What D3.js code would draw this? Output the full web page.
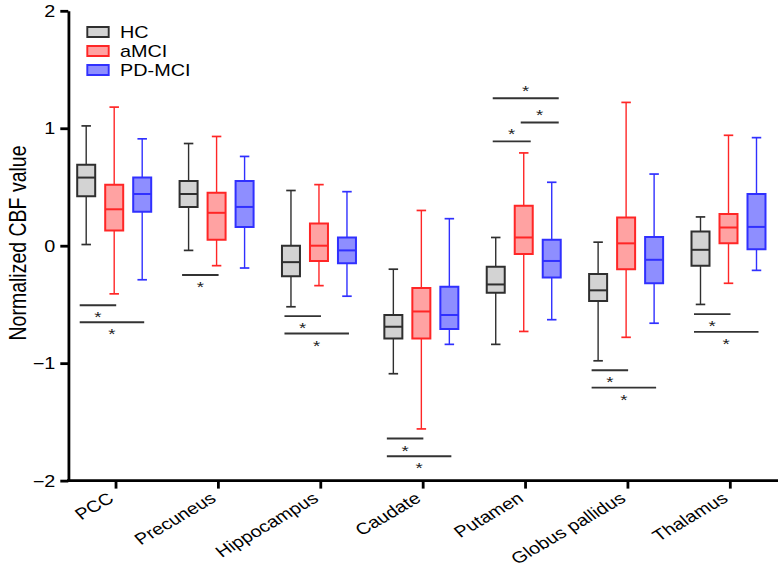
<!DOCTYPE html>
<html>
<head>
<meta charset="utf-8">
<script src="https://cdn.jsdelivr.net/npm/d3@7"></script>
<style>
  html, body { margin: 0; padding: 0; background: #fff; }
  svg { display: block; }
  .ns { vector-effect: non-scaling-stroke; }
</style>
</head>
<body>
<div id="chart"></div>
<script>
// ---------- DATA ----------
const regions = ["PCC", "Precuneus", "Hippocampus", "Caudate", "Putamen", "Globus pallidus", "Thalamus"];
const groups = ["HC", "aMCI", "PD-MCI"];
const yTicks = [-2, -1, 0, 1, 2];
const yTitle = "Normalized CBF value";

// [min, q1, median, q3, max] per region
const hcStats = [
  [0.01, 0.42, 0.58, 0.69, 1.02],
  [-0.04, 0.33, 0.44, 0.55, 0.87],
  [-0.52, -0.26, -0.14, 0.00, 0.47],
  [-1.09, -0.79, -0.69, -0.59, -0.20],
  [-0.84, -0.40, -0.33, -0.18, 0.07],
  [-0.98, -0.47, -0.38, -0.24, 0.03],
  [-0.50, -0.17, -0.035, 0.12, 0.245]
];
const amciStats = [
  [-0.41, 0.13, 0.31, 0.52, 1.18],
  [-0.17, 0.05, 0.28, 0.45, 0.93],
  [-0.34, -0.13, 0.00, 0.19, 0.52],
  [-1.56, -0.79, -0.56, -0.36, 0.30],
  [-0.73, -0.07, 0.07, 0.34, 0.79],
  [-0.78, -0.20, 0.02, 0.24, 1.22],
  [-0.32, 0.02, 0.155, 0.27, 0.94]
];
const pdStats = [
  [-0.29, 0.29, 0.44, 0.58, 0.91],
  [-0.19, 0.16, 0.33, 0.55, 0.76],
  [-0.43, -0.15, -0.04, 0.07, 0.46],
  [-0.84, -0.71, -0.59, -0.35, 0.23],
  [-0.63, -0.27, -0.13, 0.05, 0.54],
  [-0.66, -0.32, -0.12, 0.075, 0.61],
  [-0.21, -0.03, 0.16, 0.44, 0.92]
];

// significance brackets
const sigRegion = ["PCC", "PCC", "Precuneus", "Hippocampus", "Hippocampus", "Caudate", "Caudate",
                   "Putamen", "Putamen", "Putamen", "Globus pallidus", "Globus pallidus", "Thalamus", "Thalamus"];
const sigFrom = ["HC", "HC", "HC", "HC", "HC", "HC", "HC", "HC", "aMCI", "HC", "HC", "HC", "HC", "HC"];
const sigTo = ["aMCI", "PD-MCI", "aMCI", "aMCI", "PD-MCI", "aMCI", "PD-MCI", "aMCI", "PD-MCI", "PD-MCI", "aMCI", "PD-MCI", "aMCI", "PD-MCI"];
const sigY = [-0.507, -0.652, -0.249, -0.60, -0.748, -1.642, -1.793, 0.888, 1.049, 1.256, -1.06, -1.208, -0.583, -0.734];
const sigSide = ["below", "below", "below", "below", "below", "below", "below", "above", "above", "above", "below", "below", "below", "below"];

// ---------- LAYOUT ----------
const W = 778, H = 565, S = 1.24;   // horizontal stretch of the original figure
const VW = W / S;
const px = v => v / S;              // screen px (horizontal) -> view units

const font = "'Liberation Sans', Arial, Helvetica, sans-serif";
const strokeCol = { "HC": "#2f2f2f", "aMCI": "#ff2626", "PD-MCI": "#3030ff" };
const fillCol = { "HC": "#d3d3d3", "aMCI": "#ffa2a2", "PD-MCI": "#8e8eff" };
const statsBy = { "HC": hcStats, "aMCI": amciStats, "PD-MCI": pdStats };

const svg = d3.select("#chart").append("svg")
  .attr("width", W).attr("height", H)
  .attr("viewBox", `0 0 ${VW} ${H}`)
  .attr("preserveAspectRatio", "none");

const axisX0 = px(68.3);
const x = d3.scalePoint().domain(regions).range([px(115.4), px(729.7)]);
const gx = d3.scalePoint().domain(groups).range([px(-29.2), px(26.8)]);
const y = d3.scaleLinear().domain([-2, 2]).range([480.6, 10.8]);

const boxW = px(18), capW = px(9.5);

// ---------- BOXES ----------
const boxData = [];
regions.forEach((r, i) => groups.forEach(g => {
  const s = statsBy[g][i];
  boxData.push({ r, g, min: s[0], q1: s[1], med: s[2], q3: s[3], max: s[4] });
}));

const bg = svg.append("g").selectAll("g").data(boxData).join("g")
  .attr("transform", d => `translate(${x(d.r) + gx(d.g)},0)`);

bg.append("line").attr("class", "ns")
  .attr("x1", 0).attr("x2", 0)
  .attr("y1", d => y(d.max)).attr("y2", d => y(d.min))
  .attr("stroke", d => strokeCol[d.g]).attr("stroke-width", 1.4);
bg.append("line").attr("class", "ns")
  .attr("x1", -capW / 2).attr("x2", capW / 2)
  .attr("y1", d => y(d.max)).attr("y2", d => y(d.max))
  .attr("stroke", d => strokeCol[d.g]).attr("stroke-width", 1.7);
bg.append("line").attr("class", "ns")
  .attr("x1", -capW / 2).attr("x2", capW / 2)
  .attr("y1", d => y(d.min)).attr("y2", d => y(d.min))
  .attr("stroke", d => strokeCol[d.g]).attr("stroke-width", 1.7);
bg.append("rect").attr("class", "ns")
  .attr("x", -boxW / 2).attr("width", boxW)
  .attr("y", d => y(d.q3)).attr("height", d => y(d.q1) - y(d.q3))
  .attr("fill", d => fillCol[d.g])
  .attr("stroke", d => strokeCol[d.g]).attr("stroke-width", 2);
bg.append("line").attr("class", "ns")
  .attr("x1", -boxW / 2).attr("x2", boxW / 2)
  .attr("y1", d => y(d.med)).attr("y2", d => y(d.med))
  .attr("stroke", d => strokeCol[d.g]).attr("stroke-width", 2);

// ---------- SIGNIFICANCE ----------
const sigData = sigRegion.map((r, k) => ({ r, from: sigFrom[k], to: sigTo[k], v: sigY[k], side: sigSide[k] }));
const sg = svg.append("g").selectAll("g").data(sigData).join("g");
sg.each(function (d) {
  const c1 = x(d.r) + gx(d.from), c2 = x(d.r) + gx(d.to);
  const x1 = d.side === "below" ? c1 - px(6.5) : c1 - px(3);
  const x2 = d.side === "below" ? c2 + px(2) : c2 + px(7);
  const ly = y(d.v);
  const g = d3.select(this);
  g.append("line").attr("class", "ns")
    .attr("x1", x1).attr("x2", x2).attr("y1", ly).attr("y2", ly)
    .attr("stroke", "#333").attr("stroke-width", 1.9);
  const cy = d.side === "below" ? ly + 8.5 : ly - 11;
  g.append("text").attr("x", (x1 + x2) / 2).attr("y", cy + 8.5)
    .attr("text-anchor", "middle")
    .attr("font-family", font).attr("font-size", 15).attr("fill", "#222")
    .text("*");
});

// ---------- AXES ----------
const yAxis = d3.axisLeft(y).tickValues(yTicks)
  .tickFormat(d => d < 0 ? "\u2212" + Math.abs(d) : String(d))
  .tickSize(px(8)).tickSizeOuter(0).tickPadding(px(5));
const yg = svg.append("g").attr("transform", `translate(${axisX0},0)`).call(yAxis);
yg.selectAll("path, line").attr("class", "ns").attr("stroke", "#000").attr("stroke-width", 2.8);
yg.selectAll("text").attr("font-family", font).attr("font-size", 16).attr("fill", "#000")
  .attr("dy", "0.35em");

// x axis
svg.append("line").attr("class", "ns")
  .attr("x1", axisX0 - px(1.3)).attr("x2", VW).attr("y1", y(-2)).attr("y2", y(-2))
  .attr("stroke", "#000").attr("stroke-width", 2.8);
const xAxis = d3.axisBottom(x).tickSize(8).tickSizeOuter(0);
const xg = svg.append("g").attr("transform", `translate(0,${y(-2)})`).call(xAxis);
xg.select(".domain").remove();
xg.selectAll("line").attr("class", "ns").attr("stroke", "#000").attr("stroke-width", 2.8);
xg.selectAll("text")
  .attr("x", 0).attr("y", 0).attr("dy", 0)
  .attr("text-anchor", "end")
  .attr("transform", `translate(${px(-1)},20) rotate(-36)`)
  .attr("font-family", font).attr("font-size", 16).attr("fill", "#000");

// y title
svg.append("text")
  .attr("transform", `translate(${px(25.5)},243) rotate(-90)`)
  .attr("text-anchor", "middle")
  .attr("font-family", font).attr("font-size", 19.5).attr("fill", "#000")
  .text(yTitle);

// ---------- LEGEND ----------
const lg = svg.append("g").selectAll("g").data(groups).join("g")
  .attr("transform", (d, i) => `translate(0,${27 + i * 19})`);
lg.append("rect").attr("class", "ns")
  .attr("x", px(87.3)).attr("y", 0).attr("width", px(21.4)).attr("height", 10)
  .attr("fill", d => fillCol[d]).attr("stroke", d => strokeCol[d]).attr("stroke-width", 1.9);
lg.append("text")
  .attr("x", px(120)).attr("y", 11)
  .attr("font-family", font).attr("font-size", 16).attr("fill", "#000")
  .text(d => d);
</script>
</body>
</html>
